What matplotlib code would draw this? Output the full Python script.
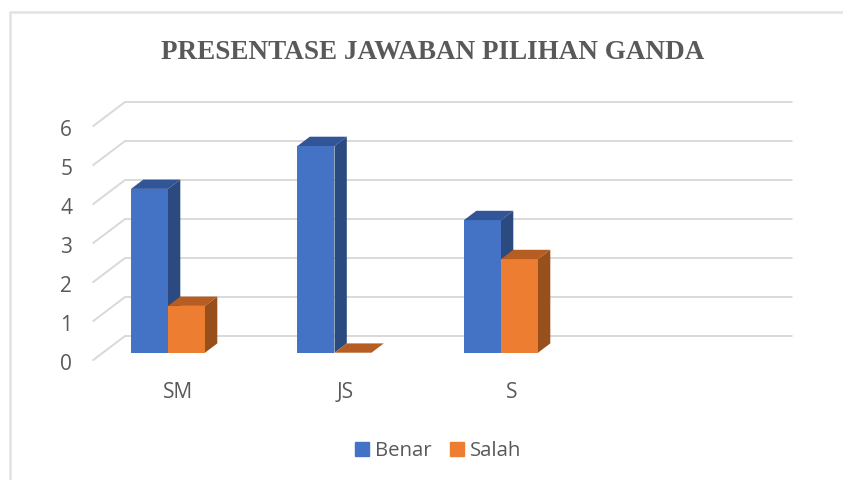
import matplotlib

matplotlib.use("Agg")
import matplotlib.pyplot as plt
from matplotlib.lines import Line2D
from matplotlib.patches import Patch, Polygon

W, H = 843, 480
OUT = "out.png"

categories = ["SM", "JS", "S"]
benar = [4.2, 5.3, 3.4]
salah = [1.2, 0.0, 2.4]
y_ticks = [0, 1, 2, 3, 4, 5, 6]
title = "PRESENTASE JAWABAN PILIHAN GANDA"

GREY = "#595959"
GRID = "#d9d9d9"
BLUE, BLUE_TOP, BLUE_SIDE = "#4472c4", "#325597", "#2a4a80"
ORANGE, ORANGE_TOP, ORANGE_SIDE = "#ed7d31", "#b55d22", "#97501b"

# pixel scale of the plot, category 0 centred at x0, value 0 at y0
x0, y0 = 168.0, 352.7
px_x, px_y = 166.5, 39.0
bar_w = 37.0 / px_x
dx, dy = 12.3 / px_x, 9.3 / px_y


def box3d(ax, left, value, front, top, side):
    ax.bar(left + bar_w / 2, value, bar_w, color=front, zorder=3)
    right = left + bar_w
    ax.add_patch(Polygon([(left, value), (right, value), (right + dx, value + dy), (left + dx, value + dy)],
                         facecolor=top, edgecolor="none", zorder=3))
    if value > 0:
        ax.add_patch(Polygon([(right, 0), (right + dx, dy), (right + dx, value + dy), (right, value)],
                             facecolor=side, edgecolor="none", zorder=3))


fig = plt.figure(figsize=(W / 100, H / 100), dpi=100, facecolor="white")
ax = fig.add_axes([0, 0, 1, 1])
ax.set_xlim(-x0 / px_x, (W - x0) / px_x)
ax.set_ylim((y0 - H) / px_y, y0 / px_y)
ax.axis("off")

# frame is cropped in the source, only left and top edges show
fig.add_artist(Line2D([9.5 / W, 9.5 / W, 1], [0, 1 - 11.5 / H, 1 - 11.5 / H], transform=fig.transFigure,
                      color="#e2e2e2", linewidth=1.8, solid_joinstyle="miter"))

# gridlines on the back wall and the slanted floor edge
front_x = (93.3 - x0) / px_x
back_x = (125.0 - x0) / px_x
end_x = (791.5 - x0) / px_x
front_off = (y0 - 360.0) / px_y
back_off = (y0 - 336.0) / px_y
for v in y_ticks:
    ax.plot([front_x, back_x, end_x], [v + front_off, v + back_off, v + back_off],
            color=GRID, linewidth=1.4, solid_joinstyle="miter", zorder=1)
    ax.text(front_x - 27 / px_x, v + front_off - 4.5 / px_y, str(v), ha="center", va="center",
            fontsize=15, color=GREY, family="Open Sans")

for i, name in enumerate(categories):
    box3d(ax, i - bar_w, benar[i], BLUE, BLUE_TOP, BLUE_SIDE)
    box3d(ax, i, salah[i], ORANGE, ORANGE_TOP, ORANGE_SIDE)
    ax.text(i + 10.5 / px_x, -39.5 / px_y, name, ha="center", va="center",
            fontsize=15, color=GREY, family="Open Sans")

fig.text(433 / W, 1 - 52.5 / H, title, ha="center", va="center", fontsize=19.5,
         fontweight="bold", color=GREY, family="Liberation Serif")

handles = [Patch(color=BLUE, label="Benar"), Patch(color=ORANGE, label="Salah")]
fig.legend(handles=handles, loc="center", bbox_to_anchor=(438 / W, 1 - 451 / H), ncol=2, frameon=False,
           prop={"family": "Open Sans", "size": 14.7}, labelcolor=GREY, handlelength=0.68,
           handleheight=0.68, handletextpad=0.29, columnspacing=0.9)

fig.savefig(OUT, dpi=100)
